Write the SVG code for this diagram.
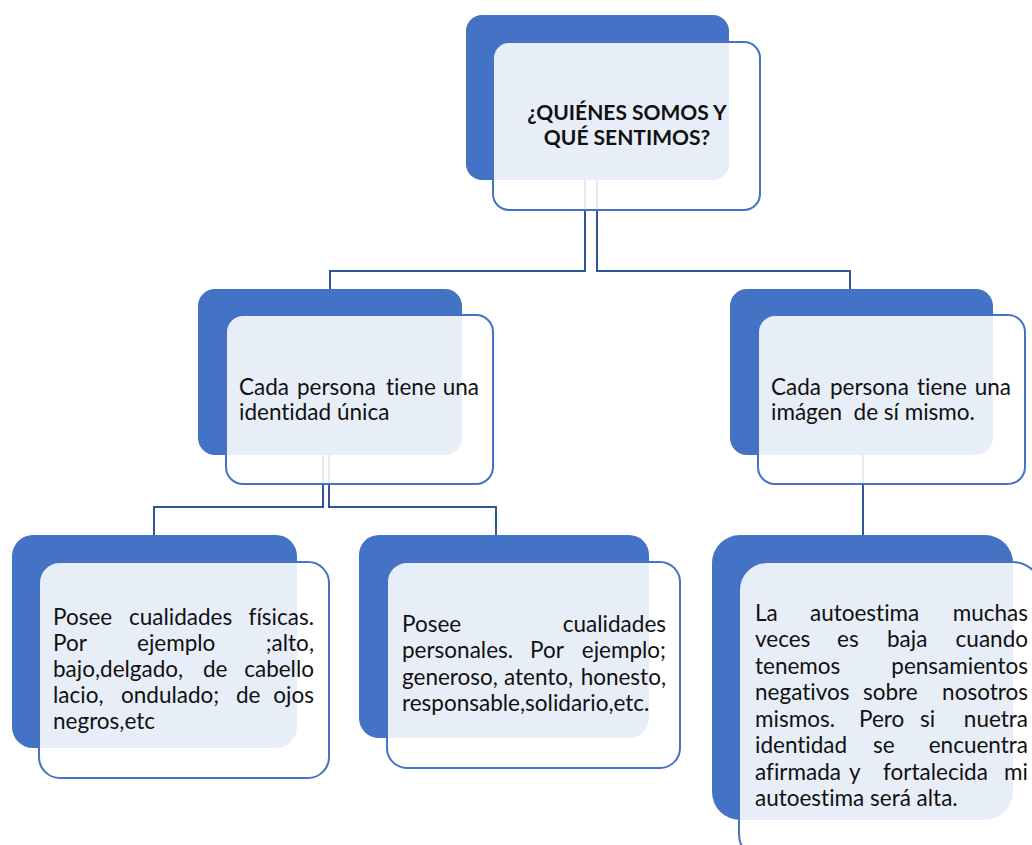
<svg xmlns="http://www.w3.org/2000/svg" width="1032" height="845" viewBox="0 0 1032 845">
<style>
.back{fill:#4472C4;}
.front{fill:#ffffff;fill-opacity:0.88;stroke:#4472C4;stroke-width:2;}
.conn{fill:none;stroke:#2F5597;stroke-width:2;}
.t{font-family:Lato,"Liberation Sans",sans-serif;font-size:22.5px;fill:#111111;font-variant-ligatures:none;}
.e{text-anchor:end;}
.title{font-family:Lato,"Liberation Sans",sans-serif;font-size:21px;font-weight:bold;fill:#111111;text-anchor:middle;}
</style>
<rect width="1032" height="845" fill="#ffffff"/>
<g id="connectors">
<polyline class="conn" points="585,180 585,271 330,271 330,289"/>
<polyline class="conn" points="597,180 597,271 850,271 850,289"/>
<polyline class="conn" points="323,455 323,507 154,507 154,535"/>
<polyline class="conn" points="329,455 329,507 496,507 496,535"/>
<polyline class="conn" points="863,455 863,535"/>
</g>
<g id="n-top">
<rect class="back" x="466" y="15" width="263" height="165" rx="16"/>
<rect class="front" x="493" y="42" width="267" height="168" rx="16"/>
<text class="title" x="627" y="120">¿QUIÉNES SOMOS Y</text>
<text class="title" x="627" y="145">QUÉ SENTIMOS?</text>
</g>
<g id="n-identidad">
<rect class="back" x="198" y="289" width="264" height="166" rx="17"/>
<rect class="front" x="226" y="315" width="267" height="169" rx="17"/>
<text class="t" x="239" y="395">Cada</text>
<text class="t" x="297" y="395">persona</text>
<text class="t" x="386" y="395">tiene</text>
<text class="t e" x="479" y="395">una</text>
<text class="t" x="239" y="420">identidad única</text>
</g>
<g id="n-imagen">
<rect class="back" x="730" y="289" width="263" height="166" rx="17"/>
<rect class="front" x="758" y="315" width="267" height="169" rx="17"/>
<text class="t" x="771" y="395">Cada</text>
<text class="t" x="830" y="395">persona</text>
<text class="t" x="917" y="395">tiene</text>
<text class="t e" x="1011" y="395">una</text>
<text class="t" x="771" y="420" xml:space="preserve">imágen  de sí mismo.</text>
</g>
<g id="n-fisicas">
<rect class="back" x="12" y="535" width="285" height="213" rx="21"/>
<rect class="front" x="39" y="562" width="290" height="216" rx="21"/>
<text class="t" x="53" y="625">Posee</text>
<text class="t" x="129" y="625">cualidades</text>
<text class="t e" x="314" y="625">físicas.</text>
<text class="t" x="53" y="651">Por</text>
<text class="t" x="137" y="651">ejemplo</text>
<text class="t e" x="314" y="651">;alto,</text>
<text class="t" x="53" y="677">bajo,delgado,</text>
<text class="t" x="203" y="677">de</text>
<text class="t e" x="314" y="677">cabello</text>
<text class="t" x="53" y="703">lacio,</text>
<text class="t" x="121" y="703">ondulado;</text>
<text class="t" x="236" y="703">de</text>
<text class="t e" x="314" y="703">ojos</text>
<text class="t" x="53" y="729">negros,etc</text>
</g>
<g id="n-personales">
<rect class="back" x="359" y="535" width="290" height="203" rx="20"/>
<rect class="front" x="387" y="562" width="293" height="206" rx="20"/>
<text class="t" x="402" y="632">Posee</text>
<text class="t e" x="666" y="632">cualidades</text>
<text class="t" x="402" y="658">personales.</text>
<text class="t" x="530" y="658">Por</text>
<text class="t e" x="666" y="658">ejemplo;</text>
<text class="t" x="402" y="685">generoso,</text>
<text class="t" x="504" y="685">atento,</text>
<text class="t e" x="666" y="685">honesto,</text>
<text class="t" x="402" y="711">responsable,solidario,etc.</text>
</g>
<g id="n-autoestima">
<rect class="back" x="712" y="535" width="301" height="285" rx="28"/>
<rect class="front" x="739" y="562" width="302" height="300" rx="28"/>
<text class="t" x="755" y="621">La</text>
<text class="t" x="810" y="621">autoestima</text>
<text class="t e" x="1028" y="621">muchas</text>
<text class="t" x="755" y="647">veces</text>
<text class="t" x="837" y="647">es</text>
<text class="t" x="887" y="647">baja</text>
<text class="t e" x="1028" y="647">cuando</text>
<text class="t" x="755" y="674">tenemos</text>
<text class="t e" x="1028" y="674">pensamientos</text>
<text class="t" x="755" y="700">negativos</text>
<text class="t" x="863" y="700">sobre</text>
<text class="t e" x="1028" y="700">nosotros</text>
<text class="t" x="755" y="727">mismos.</text>
<text class="t" x="859" y="727">Pero</text>
<text class="t" x="920" y="727">si</text>
<text class="t e" x="1028" y="727">nuetra</text>
<text class="t" x="755" y="753">identidad</text>
<text class="t" x="873" y="753">se</text>
<text class="t e" x="1028" y="753">encuentra</text>
<text class="t" x="755" y="780">afirmada</text>
<text class="t" x="849" y="780">y</text>
<text class="t" x="883" y="780">fortalecida</text>
<text class="t e" x="1028" y="780">mi</text>
<text class="t" x="755" y="806">autoestima será alta.</text>
</g>
</svg>
